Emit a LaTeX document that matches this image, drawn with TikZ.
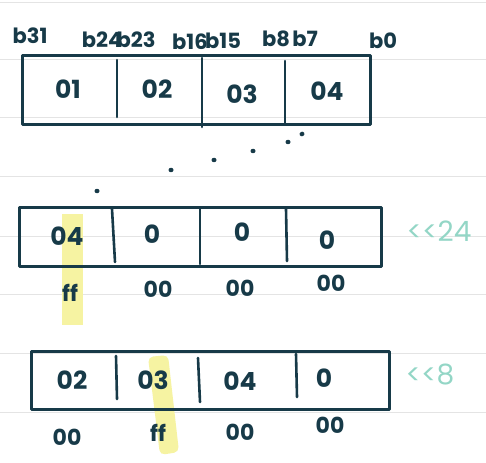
\documentclass[tikz,border=0pt]{standalone}
\usepackage{fontspec}
\usetikzlibrary{shapes.geometric}
\setmainfont{Poppins}
\definecolor{ink}{HTML}{173A48}
\definecolor{rulegray}{HTML}{E4E4E4}
\definecolor{tealink}{HTML}{93D6C6}
\definecolor{hl}{HTML}{F6F3A2}
\begin{document}
\begin{tikzpicture}[x=1pt,y=-1pt,
  boxline/.style={draw=ink,line width=3pt,line join=round},
  divline/.style={draw=ink,line width=2.6pt,line cap=round},
  val/.style={text=ink,font=\fontsize{25}{25}\selectfont\bfseries,inner sep=0pt},
  bitlbl/.style={text=ink,font=\fontsize{21}{21}\selectfont\bfseries,inner sep=0pt},
  sub/.style={text=ink,font=\fontsize{22}{22}\selectfont\bfseries,inner sep=0pt},
  shiftlbl/.style={text=tealink,font=\fontsize{28}{28}\selectfont,inner sep=0pt},
  dot/.style={fill=ink,ellipse,inner sep=0pt,minimum width=5pt,minimum height=4.5pt}]
\useasboundingbox (0,0) rectangle (486,462);
\fill[white] (0,0) rectangle (486,462);
% ruled lines
\foreach \yy in {3,60,118,177,236,294,353,412}
  \draw[rulegray,line width=1pt] (0,\yy) -- (486,\yy);
% highlights
\fill[hl] (62,214) rectangle (83,325);
\fill[hl,rounded corners=5pt] (148,357) -- (168,355) -- (179,452) -- (160,455) -- cycle;
% box 1
\draw[boxline] (22,56) rectangle (370,125);
\draw[divline] (117,60) -- (117,117);
\draw[divline] (202,58) -- (202,127);
\draw[divline] (285,61) -- (285,123);
\node[bitlbl] (b31) at (30,36) {b31};
\node[bitlbl] (b24) at (102,40) {b24};
\node[bitlbl] (b23) at (136,40) {b23};
\node[bitlbl] (b16) at (190,42) {b16};
\node[bitlbl] (b15) at (223,41) {b15};
\node[bitlbl] (b8) at (276,39) {b8};
\node[bitlbl] (b7) at (305,39) {b7};
\node[bitlbl] (b0) at (383,41) {b0};
\node[val] (v11) at (68,89) {01};
\node[val] (v12) at (157,89) {02};
\node[val] (v13) at (242,94) {03};
\node[val] (v14) at (327,91) {04};
% dots
\node[dot] (d1) at (97,191) {};
\node[dot] (d2) at (171,170) {};
\node[dot] (d3) at (214,160) {};
\node[dot] (d4) at (253,151) {};
\node[dot] (d5) at (288,142) {};
\node[dot,rotate=30] (d6) at (302,134) {};
% box 2
\draw[boxline] (19,207) rectangle (381,266);
\draw[divline] (112,209) -- (115,262);
\draw[divline] (200,209) -- (200,264);
\draw[divline] (286,209) -- (287,261);
\node[val] (v21) at (67,236) {04};
\node[val] (v22) at (152,234) {0};
\node[val] (v23) at (242,232) {0};
\node[val] (v24) at (327,240) {0};
\node[sub] (s21) at (70,293) {ff};
\node[sub] (s22) at (158,289) {00};
\node[sub] (s23) at (240,288) {00};
\node[sub] (s24) at (331,283) {00};
\node[shiftlbl] (sh1) at (439,231) {{<}{<}24};
% box 3
\draw[boxline] (31,351) rectangle (389,409);
\draw[divline] (116,356) -- (117,399);
\draw[divline] (198,358) -- (200,402);
\draw[divline] (296,354) -- (297,397);
\node[val] (v31) at (72,380) {02};
\node[val] (v32) at (153,380) {03};
\node[val] (v33) at (240,381) {04};
\node[val] (v34) at (324,378) {0};
\node[sub] (s31) at (67,437) {00};
\node[sub] (s32) at (158,433) {ff};
\node[sub] (s33) at (240,432) {00};
\node[sub] (s34) at (330,425) {00};
\node[shiftlbl] (sh2) at (430,374) {{<}{<}8};
\end{tikzpicture}
\end{document}
